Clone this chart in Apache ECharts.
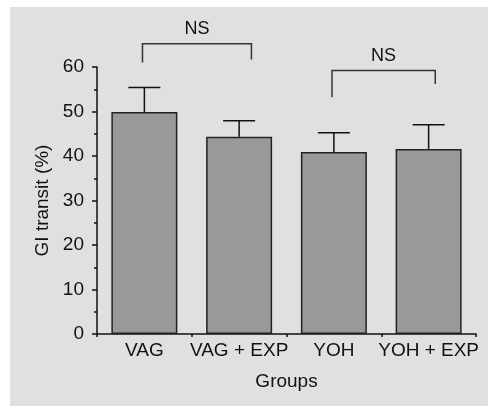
<!DOCTYPE html>
<html>
<head>
<meta charset="utf-8">
<script src="https://cdn.jsdelivr.net/npm/echarts@6/dist/echarts.min.js"></script>
<style>
html,body{margin:0;padding:0;background:#fff;}
#c{width:488px;height:406px;}
</style>
</head>
<body>
<div id="c"></div>
<script>
var categories = ['VAG', 'VAG + EXP', 'YOH', 'YOH + EXP'];
var means = [49.9, 44.3, 40.9, 41.6];
var upperErr = [55.4, 47.9, 45.2, 47.0];
var yTicks = [0, 10, 20, 30, 40, 50, 60];
// significance brackets: [from category, to category, bar height, left leg end, right leg end, label]
var bracketFrom = [-0.02, 1.98];
var bracketTo = [1.13, 3.07];
var bracketTop = [65.2, 59.2];
var bracketLegLeft = [61.0, 53.2];
var bracketLegRight = [61.7, 56.2];
var bracketLabel = ['NS', 'NS'];

var chart = echarts.init(document.getElementById('c'), null, {renderer: 'canvas'});
var FONT = '"Liberation Sans", Arial, sans-serif';
var DARK = '#111';

function xAt(api, pos) {
  var base = Math.floor(pos + 0.5);
  if (base < 0) base = 0;
  if (base > categories.length - 1) base = categories.length - 1;
  var c = api.coord([base, 0])[0];
  var band = api.size([1, 0])[0];
  return c + (pos - base) * band;
}

var errData = categories.map(function (c, i) { return [i, means[i], upperErr[i]]; });
var bracketData = bracketFrom.map(function (f, i) {
  return [f, bracketTo[i], bracketTop[i], bracketLegLeft[i], bracketLegRight[i], i];
});

chart.setOption({
  animation: false,
  backgroundColor: '#ffffff',
  graphic: [{
    type: 'rect', z: -10, silent: true,
    shape: {x: 10, y: 7, width: 478, height: 399},
    style: {fill: '#e0e0e0'}
  }],
  grid: {left: 97, right: 12, top: 67, bottom: 72},
  xAxis: {
    type: 'category',
    data: categories,
    name: 'Groups',
    nameLocation: 'middle',
    nameGap: 38,
    nameTextStyle: {fontFamily: FONT, fontSize: 19, color: DARK},
    axisLine: {lineStyle: {color: DARK, width: 1.5}},
    axisTick: {show: true, length: 3, lineStyle: {color: DARK, width: 1.5}},
    axisLabel: {fontFamily: FONT, fontSize: 19, color: DARK, margin: 7, interval: 0},
    splitLine: {show: false}
  },
  yAxis: {
    type: 'value',
    min: yTicks[0],
    max: yTicks[yTicks.length - 1],
    interval: 10,
    name: 'GI transit (%)',
    nameLocation: 'middle',
    nameGap: 44,
    nameTextStyle: {fontFamily: FONT, fontSize: 19, color: DARK},
    axisLine: {show: true, lineStyle: {color: DARK, width: 1.5}},
    axisTick: {show: true, length: 5, lineStyle: {color: DARK, width: 1.5}},
    minorTick: {show: true, splitNumber: 2, length: 3, lineStyle: {color: DARK, width: 1.5}},
    axisLabel: {fontFamily: FONT, fontSize: 19, color: DARK, margin: 13},
    splitLine: {show: false}
  },
  series: [
    {
      type: 'bar',
      data: means,
      barWidth: 66,
      itemStyle: {color: '#999999', borderColor: '#222', borderWidth: 1.5},
      z: 2
    },
    {
      type: 'custom',
      data: errData,
      z: 3,
      renderItem: function (params, api) {
        var i = api.value(0);
        var p0 = api.coord([i, api.value(1)]);
        var p1 = api.coord([i, api.value(2)]);
        var half = 16;
        return {
          type: 'group',
          children: [
            {type: 'line', shape: {x1: p0[0], y1: p0[1], x2: p1[0], y2: p1[1]}, style: {stroke: DARK, lineWidth: 1.5}},
            {type: 'line', shape: {x1: p1[0] - half, y1: p1[1], x2: p1[0] + half, y2: p1[1]}, style: {stroke: DARK, lineWidth: 1.5}}
          ]
        };
      }
    },
    {
      type: 'custom',
      data: bracketData,
      clip: false,
      z: 3,
      renderItem: function (params, api) {
        var xl = xAt(api, api.value(0));
        var xr = xAt(api, api.value(1));
        var yTop = api.coord([0, api.value(2)])[1];
        var yL = api.coord([0, api.value(3)])[1];
        var yR = api.coord([0, api.value(4)])[1];
        var idx = api.value(5);
        return {
          type: 'group',
          children: [
            {type: 'polyline', shape: {points: [[xl, yL], [xl, yTop], [xr, yTop], [xr, yR]]},
             style: {stroke: '#333', lineWidth: 1.5, fill: null}},
            {type: 'text', style: {
              text: bracketLabel[idx], x: (xl + xr) / 2, y: yTop - 14.5,
              textAlign: 'center', textVerticalAlign: 'middle',
              fontFamily: FONT, fontSize: 18, fill: DARK
            }}
          ]
        };
      }
    }
  ]
});
</script>
</body>
</html>
